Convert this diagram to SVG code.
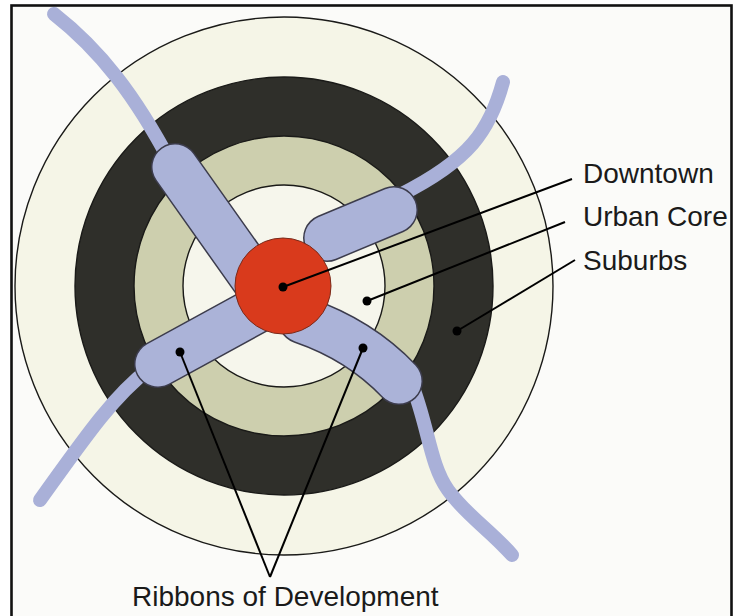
<svg xmlns="http://www.w3.org/2000/svg" width="740" height="616" viewBox="0 0 740 616">
<style>
.ring{stroke:#1a1a18;stroke-width:1.4}
.road{fill:none;stroke:#a9b0d8;stroke-width:14;stroke-linecap:round;stroke-linejoin:round}
.lobeo{fill:none;stroke:#3c3c4c;stroke-width:48;stroke-linecap:round}
.lobef{fill:none;stroke:#abb3d8;stroke-width:45;stroke-linecap:round}
.lead{fill:none;stroke:#000;stroke-width:2}
.dot{fill:#000}
.lbl{font-family:"Liberation Sans",Arial,sans-serif;font-size:28px;fill:#1a1a1a}
</style>
<rect x="0" y="0" width="740" height="616" fill="#ffffff"/>
<rect x="11.5" y="5.5" width="720" height="700" fill="#fbfbf9" stroke="#111" stroke-width="2.6"/>
<g id="rings">
<circle id="suburbs-outer" class="ring" cx="284" cy="286" r="269" fill="#f5f5e7"/>
<circle id="suburbs" class="ring" cx="284" cy="286" r="209" fill="#2f2f2a"/>
<circle id="urban-core-ring" class="ring" cx="284" cy="286" r="150" fill="#cdcfae"/>
<circle id="urban-core" class="ring" cx="284" cy="286" r="101" fill="#f6f6ec"/>
</g>
<g id="roads">
<path class="road" d="M 54 14 C 100 50 135 95 172 165"/>
<path class="road" d="M 503 82 C 490 130 470 160 400 195"/>
<path class="road" d="M 150 368 C 115 395 90 430 40 500"/>
<path class="road" d="M 412 385 C 428 425 430 465 448 490 S 490 530 512 555"/>
</g>
<g id="ribbons">
<g id="ribbon-outlines">
<path class="lobeo" d="M 175 167 L 255 280"/>
<path class="lobeo" d="M 394 210 L 327 238"/>
<path class="lobeo" d="M 158 364 L 264 306"/>
<path class="lobeo" d="M 302 320 Q 360 340 399 381"/>
</g>
<g id="ribbon-fills">
<path class="lobef" d="M 175 167 L 255 280"/>
<path class="lobef" d="M 394 210 L 327 238"/>
<path class="lobef" d="M 158 364 L 264 306"/>
<path class="lobef" d="M 302 320 Q 360 340 399 381"/>
</g>
</g>
<g id="downtown">
<circle cx="283" cy="286" r="48" fill="#d93a1c" stroke="#7a2a1a" stroke-width="1"/>
</g>
<g id="connectors">
<line class="lead" x1="283" y1="287" x2="572" y2="179"/>
<line class="lead" x1="367" y1="301" x2="565" y2="222"/>
<line class="lead" x1="457" y1="331" x2="575" y2="260"/>
<line class="lead" x1="180" y1="352" x2="270" y2="577"/>
<line class="lead" x1="363" y1="348" x2="270" y2="577"/>
<circle class="dot" cx="283" cy="287" r="4.5"/>
<circle class="dot" cx="367" cy="301" r="4.5"/>
<circle class="dot" cx="457" cy="331" r="4.5"/>
<circle class="dot" cx="180" cy="352" r="4.5"/>
<circle class="dot" cx="363" cy="348" r="4.5"/>
</g>
<g id="labels">
<text id="label-downtown" class="lbl" x="583" y="183">Downtown</text>
<text id="label-urban-core" class="lbl" x="583" y="226">Urban Core</text>
<text id="label-suburbs" class="lbl" x="583" y="270">Suburbs</text>
<text id="label-ribbons" class="lbl" x="132" y="606">Ribbons of Development</text>
</g>
</svg>
